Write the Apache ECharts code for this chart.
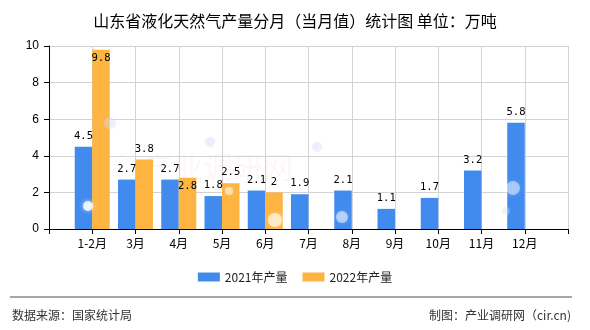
<!DOCTYPE html>
<html>
<head>
<meta charset="utf-8">
<script src="https://cdn.jsdelivr.net/npm/echarts@6/dist/echarts.min.js"></script>
<style>
  html, body { margin: 0; padding: 0; background: #fff; }
  #chart { width: 590px; height: 330px; }
</style>
</head>
<body>
<div id="chart"></div>
<script>
// Monthly LNG output of Shandong province (10k tonnes)
const months = ['1-2月', '3月', '4月', '5月', '6月', '7月', '8月', '9月', '10月', '11月', '12月'];
const output2021 = [4.5, 2.7, 2.7, 1.8, 2.1, 1.9, 2.1, 1.1, 1.7, 3.2, 5.8];
const output2022 = [9.8, 3.8, 2.8, 2.5, 2, null, null, null, null, null, null];
const yTicks = { min: 0, max: 10, interval: 2 };

// Labels that sit inside the bar top instead of above it
const insideLabels2022 = [0, 2];

// Axis has an empty slot on each side so the months sit on the gridlines
const categories = [''].concat(months, ['']);
const pad = arr => [null].concat(arr, [null]);

const labelFont = { fontFamily: 'DejaVu Sans Mono', fontSize: 10.5, color: '#000' };

const data2022 = pad(output2022).map((v, i) => {
  if (v != null && insideLabels2022.indexOf(i - 1) >= 0) {
    return { value: v, label: { position: 'insideTop', distance: 3 } };
  }
  return v;
});

const chart = echarts.init(document.getElementById('chart'), null, { renderer: 'canvas' });

// soft decorative highlights
const bubbles = [
  [88, 206, 5, 'rgba(255,255,255,0.8)'],
  [110, 123, 6, 'rgba(215,218,245,0.35)'],
  [210, 142, 5, 'rgba(205,210,245,0.3)'],
  [229, 191, 4, 'rgba(255,255,255,0.5)'],
  [275, 220, 7, 'rgba(255,245,225,0.7)'],
  [317, 147, 5, 'rgba(205,210,245,0.3)'],
  [342, 217, 6, 'rgba(255,255,255,0.5)'],
  [513, 188, 7, 'rgba(255,255,255,0.45)'],
  [506, 211, 4, 'rgba(215,218,245,0.3)']
].map(b => ({
  type: 'circle',
  shape: { cx: b[0], cy: b[1], r: b[2] },
  style: { fill: b[3], shadowBlur: 4, shadowColor: b[3] },
  silent: true,
  z: 20
}));

chart.setOption({
  animation: false,
  backgroundColor: '#fff',
  title: {
    text: '山东省液化天然气产量分月（当月值）统计图 单位：万吨',
    left: 'center',
    top: 8,
    textStyle: { fontFamily: 'Noto Sans CJK SC', fontSize: 16, fontWeight: 'normal', color: '#000' }
  },
  legend: {
    top: 266,
    left: 'center',
    itemWidth: 22,
    itemHeight: 9,
    itemGap: 15,
    icon: 'rect',
    textStyle: { fontFamily: 'Noto Sans CJK SC', fontSize: 12, color: '#222' },
    data: ['2021年产量', '2022年产量']
  },
  grid: { left: 49, right: 22, top: 46, bottom: 101, containLabel: false },
  xAxis: {
    type: 'category',
    data: categories,
    boundaryGap: false,
    axisLine: { lineStyle: { color: '#000', width: 1 } },
    axisTick: { show: true, length: 5, interval: 0, lineStyle: { color: '#000' } },
    axisLabel: { interval: 0, margin: 8, fontFamily: 'Noto Sans CJK SC', fontSize: 12, color: '#000' },
    splitLine: { show: true, interval: 0, lineStyle: { color: '#d3d3d3', width: 1 } }
  },
  yAxis: {
    type: 'value',
    min: yTicks.min,
    max: yTicks.max,
    interval: yTicks.interval,
    axisLine: { show: true, lineStyle: { color: '#000', width: 1 } },
    axisTick: { show: true, length: 5, lineStyle: { color: '#000' } },
    axisLabel: { margin: 10, fontFamily: 'Liberation Sans', fontSize: 12, color: '#000' },
    splitLine: { show: true, lineStyle: { color: '#d3d3d3', width: 1 } }
  },
  series: [
    {
      name: '2021年产量',
      type: 'bar',
      data: pad(output2021),
      barWidth: 17.5,
      barGap: '0%',
      itemStyle: { color: '#418AEE' },
      label: Object.assign({ show: true, position: 'top', distance: 5 }, labelFont)
    },
    {
      name: '2022年产量',
      type: 'bar',
      data: data2022,
      barWidth: 17.5,
      barGap: '0%',
      itemStyle: { color: '#FDB440' },
      label: Object.assign({ show: true, position: 'top', distance: 5 }, labelFont)
    }
  ],
  graphic: [
    {
      type: 'text',
      left: 113,
      top: 152,
      silent: true,
      z: 0,
      style: {
        text: '◎产业调研网',
        fontFamily: 'Noto Sans CJK SC',
        fontSize: 30,
        fill: 'rgba(225,80,80,0.05)'
      }
    },
    {
      type: 'line',
      shape: { x1: 10, y1: 297, x2: 572, y2: 297 },
      style: { stroke: '#888', lineWidth: 1.5 },
      silent: true
    },
    {
      type: 'text',
      left: 12,
      top: 309,
      style: {
        text: '数据来源：国家统计局',
        fontFamily: 'Noto Sans CJK SC',
        fontSize: 12,
        fill: '#333'
      }
    },
    {
      type: 'text',
      right: 19,
      top: 309,
      style: {
        text: '制图：产业调研网（cir.cn)',
        fontFamily: 'Noto Sans CJK SC',
        fontSize: 12,
        fill: '#333'
      }
    }
  ].concat(bubbles)
});
</script>
</body>
</html>
